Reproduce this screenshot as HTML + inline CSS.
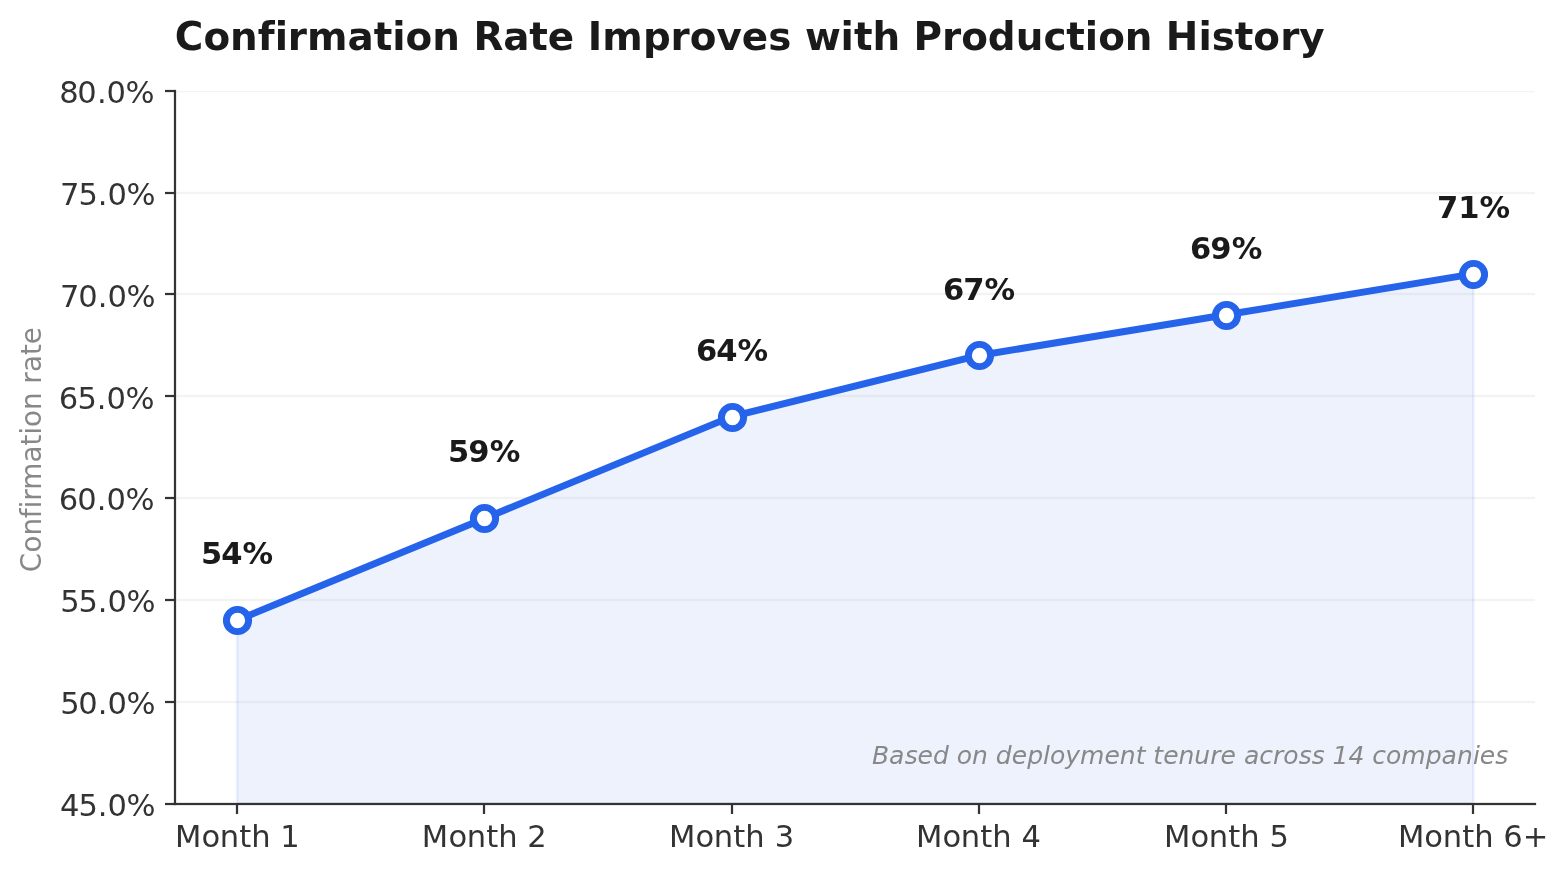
<!DOCTYPE html>
<html lang="en">
<head>
<meta charset="utf-8">
<title>Confirmation Rate Improves with Production History</title>
<style>
html,body{margin:0;padding:0;background:#fff;}
body{width:1568px;height:872px;overflow:hidden;}
svg{display:block;}
text{font-family:"DejaVu Sans","Liberation Sans",sans-serif;font-variant-ligatures:none;font-feature-settings:"liga" 0,"clig" 0;font-kerning:normal;}
.tick{font-size:30.56px;fill:#333333;}
.ann{font-size:30.56px;font-weight:700;fill:#1a1a1a;}
.title{font-size:38.89px;font-weight:700;fill:#1a1a1a;}
.ylabel{font-size:27.78px;fill:#888888;}
.note{font-size:25px;font-style:italic;fill:#888888;}
.axis rect{fill:#333333;}
.grid rect{fill:#b0b0b0;fill-opacity:0.15;}
</style>
</head>
<body>
<svg width="1568" height="872" viewBox="0 0 1568 872">
<rect width="1568" height="872" fill="#ffffff"/>
<polygon points="237.12,803.59 237.12,620.27 484.37,518.43 731.62,416.59 978.87,355.48 1226.12,314.74 1473.37,274.01 1473.37,803.59" fill="#2563eb" fill-opacity="0.0825" stroke="#2563eb" stroke-opacity="0.0825" stroke-width="2.778" stroke-linejoin="miter"/>
<g class="grid">
<rect x="176.111" y="802.889" width="1358.889" height="0.701"/>
<rect x="176.111" y="700.889" width="1358.889" height="2.222"/>
<rect x="176.111" y="598.889" width="1358.889" height="2.222"/>
<rect x="176.111" y="496.889" width="1358.889" height="2.222"/>
<rect x="176.111" y="394.889" width="1358.889" height="2.222"/>
<rect x="176.111" y="292.889" width="1358.889" height="2.222"/>
<rect x="176.111" y="191.889" width="1358.889" height="2.222"/>
<rect x="176.111" y="91" width="1358.889" height="1.111"/>
</g>
<g class="axis">
<rect x="165" y="802.889" width="10" height="2.222"/>
<rect x="165" y="700.889" width="10" height="2.222"/>
<rect x="165" y="598.889" width="10" height="2.222"/>
<rect x="165" y="496.889" width="10" height="2.222"/>
<rect x="165" y="394.889" width="10" height="2.222"/>
<rect x="165" y="292.889" width="10" height="2.222"/>
<rect x="165" y="191.889" width="10" height="2.222"/>
<rect x="165" y="89.889" width="10" height="2.222"/>
<rect x="235.889" y="804" width="2.222" height="10"/>
<rect x="482.889" y="804" width="2.222" height="10"/>
<rect x="730.889" y="804" width="2.222" height="10"/>
<rect x="977.889" y="804" width="2.222" height="10"/>
<rect x="1224.889" y="804" width="2.222" height="10"/>
<rect x="1471.889" y="804" width="2.222" height="10"/>
<rect x="173.889" y="89.889" width="2.222" height="715.222"/>
<rect x="173.889" y="802.889" width="1362.221" height="2.222"/>
</g>
<polyline points="237.12,620.27 484.37,518.43 731.62,416.59 978.87,355.48 1226.12,314.74 1473.37,274.01" fill="none" stroke="#2563eb" stroke-width="6.944" stroke-linejoin="round" stroke-linecap="square"/>
<circle cx="237.5" cy="620.5" r="11.111" fill="#ffffff" stroke="#2563eb" stroke-width="6.944"/>
<circle cx="484.5" cy="518.5" r="11.111" fill="#ffffff" stroke="#2563eb" stroke-width="6.944"/>
<circle cx="732.5" cy="417.5" r="11.111" fill="#ffffff" stroke="#2563eb" stroke-width="6.944"/>
<circle cx="979.5" cy="355.5" r="11.111" fill="#ffffff" stroke="#2563eb" stroke-width="6.944"/>
<circle cx="1226.5" cy="315.5" r="11.111" fill="#ffffff" stroke="#2563eb" stroke-width="6.944"/>
<circle cx="1473.5" cy="274.5" r="11.111" fill="#ffffff" stroke="#2563eb" stroke-width="6.944"/>
<g class="tick">
<text id="xt0" x="174.88 201.38 219.84 239.28 251.29 270.62 280.32" y="847">Month 1</text>
<text id="xt1" x="421.87 448.39 466.82 486.28 498.3 517.61 527.31" y="847">Month 2</text>
<text id="xt2" x="668.88 695.38 713.83 733.3 745.31 764.95 774.65" y="847">Month 3</text>
<text id="xt3" x="915.89 942.38 960.84 980.3 992.3 1011.72 1021.42" y="847">Month 4</text>
<text id="xt4" x="1163.88 1190.38 1208.84 1228.28 1240.29 1259.68 1269.38" y="847">Month 5</text>
<text id="xt5" x="1398.1 1424.33 1442.79 1462.25 1474.27 1493.56 1503.26 1522.74" y="847">Month 6+</text>
</g>
<g class="tick">
<text id="yt0" x="59.95 78.45 97.81 107.41 126.44" y="816">45.0%</text>
<text id="yt1" x="60.15 78.26 97.81 107.41 126.44" y="714">50.0%</text>
<text id="yt2" x="60.15 78.45 97.81 107.41 126.44" y="612">55.0%</text>
<text id="yt3" x="58.83 77.26 96.81 106.41 125.44" y="510">60.0%</text>
<text id="yt4" x="58.83 77.45 96.81 106.41 125.44" y="409">65.0%</text>
<text id="yt5" x="60 78.26 97.81 107.41 126.44" y="307">70.0%</text>
<text id="yt6" x="60 78.45 97.81 107.41 126.44" y="205">75.0%</text>
<text id="yt7" x="59.16 77.37 96.93 106.53 125.57" y="103">80.0%</text>
</g>
<g transform="translate(41 450.6) rotate(-90)"><text id="ylabel" class="ylabel" x="-121.68 -101.91 -85.02 -67.64 -57.7 -50.15 -39.09 -11.87 5.12 16.15 23.71 40.63 58.15 66.98 78.57 95.64 106.37" y="0">Confirmation rate</text></g>
<text id="ann0" class="ann" x="200.93 221.37 242.58" y="564">54%</text>
<text id="ann1" class="ann" x="447.95 468.37 489.69" y="462">59%</text>
<text id="ann2" class="ann" x="695.96 716.35 737.57" y="361">64%</text>
<text id="ann3" class="ann" x="942.96 963.27 984.46" y="300">67%</text>
<text id="ann4" class="ann" x="1189.96 1210.37 1231.7" y="259">69%</text>
<text id="ann5" class="ann" x="1437.03 1458.29 1479.46" y="218">71%</text>
<text id="note" class="note" x="872.03 889.09 904.74 917.59 932.89 948.7 956.66 972.09 987.88 995.83 1011.81 1027.18 1043.02 1049.88 1065.2 1080.09 1104.51 1119.85 1135.79 1145.42 1153.36 1163.19 1178.43 1194.25 1210.19 1220.48 1235.99 1243.95 1259.26 1272.96 1283.25 1298.69 1311.72 1324.49 1332.46 1348.46 1364.23 1372.17 1385.92 1401.34 1425.73 1441.5 1456.9 1473.08 1479.79 1495.33" y="764">Based on deployment tenure across 14 companies</text>
<text id="title" class="title" x="174.82 203.48 230.09 257.83 274.71 287.81 306.93 347.6 373.7 392.2 405.58 432.21 460.09 473.44 503.19 529.29 547.81 574.32 587.72 602.23 642.9 670.62 689.85 716.41 741.76 768.13 791.62 804.94 840.6 853.93 872.5 900.18 913.53 941.95 961.22 987.8 1015.65 1043.4 1066.24 1084.74 1098.14 1124.77 1152.52 1165.85 1198.52 1211.71 1234.81 1253.25 1280.23 1299.2" y="50">Confirmation Rate Improves with Production History</text>
</svg>
</body>
</html>
